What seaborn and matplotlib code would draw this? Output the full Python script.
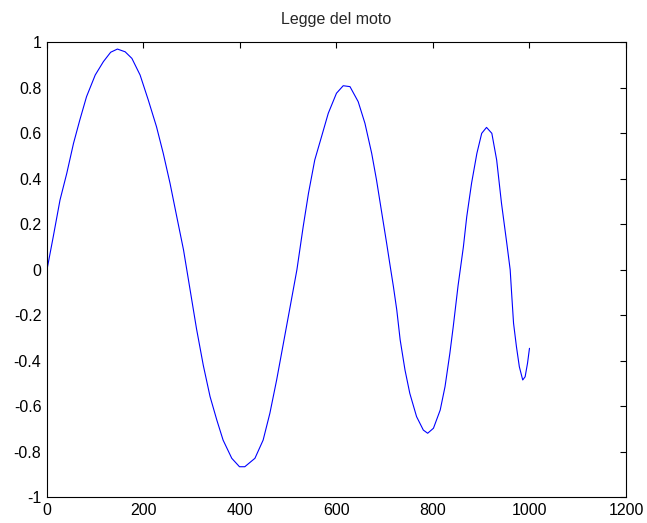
import numpy as np
import pandas as pd
import matplotlib
matplotlib.use('Agg')
import matplotlib.pyplot as plt
import seaborn as sns

# values
t = [0, 13, 27, 41, 55, 68, 82, 100, 117, 132, 146, 162, 176, 193, 210,
     227, 241, 255, 269, 283, 296, 310, 324, 338, 352, 365, 383, 399, 410,
     431, 448, 462, 476, 490, 504, 518, 531, 542, 555, 569, 583, 600, 614,
     628, 645, 659, 673, 683, 694, 704, 711, 718, 725, 732, 742, 752, 766,
     780, 789, 801, 815, 825, 835, 842, 852, 863, 870, 880, 891, 901, 911,
     922, 932, 942, 953, 960, 963, 967, 973, 979, 986, 991, 996, 1000]
s = [0.0, 0.145, 0.306, 0.423, 0.555, 0.657, 0.76, 0.855, 0.914, 0.955,
     0.969, 0.957, 0.928, 0.855, 0.745, 0.628, 0.511, 0.38, 0.233, 0.087,
     -0.08, -0.26, -0.42, -0.557, -0.66, -0.748, -0.828, -0.865, -0.865,
     -0.828, -0.748, -0.63, -0.484, -0.323, -0.162, 0.0, 0.189, 0.336,
     0.482, 0.584, 0.687, 0.775, 0.808, 0.804, 0.738, 0.643, 0.511, 0.394,
     0.248, 0.116, 0.02, -0.074, -0.177, -0.308, -0.44, -0.543, -0.645,
     -0.704, -0.718, -0.696, -0.616, -0.513, -0.367, -0.25, -0.07, 0.1,
     0.233, 0.38, 0.511, 0.599, 0.625, 0.599, 0.482, 0.292, 0.116, 0.0,
     -0.103, -0.235, -0.338, -0.426, -0.484, -0.47, -0.41, -0.345]

x_ticks = [0, 200, 400, 600, 800, 1000, 1200]
y_ticks = [-1, -0.8, -0.6, -0.4, -0.2, 0, 0.2, 0.4, 0.6, 0.8, 1]
y_labels = ['-1', '-0.8', '-0.6', '-0.4', '-0.2', '0', '0.2', '0.4', '0.6', '0.8', '1']

df = pd.DataFrame({'t': t, 's': s})

sns.set_style('white')
plt.rcParams['font.family'] = ['Liberation Sans', 'DejaVu Sans']

fig = plt.figure(figsize=(6.47, 5.23), dpi=100)
ax = fig.add_axes([0.0726, 0.0488, 0.8949, 0.8709])

sns.lineplot(data=df, x='t', y='s', ax=ax, sort=False, estimator=None,
             color='#0000FF', linewidth=0.8)

ax.set_xlim(0, 1200)
ax.set_ylim(-1, 1)
ax.set_xticks(x_ticks)
ax.set_xticklabels([str(v) for v in x_ticks])
ax.set_yticks(y_ticks)
ax.set_yticklabels(y_labels)
ax.set_xlabel('')
ax.set_ylabel('')
ax.set_title('Legge del moto', fontsize=11.5, pad=13)

ax.tick_params(direction='in', length=4.5, width=0.8, top=True, right=True,
               labelsize=11.5, colors='black', pad=4)
for sp in ax.spines.values():
    sp.set_visible(True)
    sp.set_color('black')
    sp.set_linewidth(0.8)

fig.savefig('out.png', dpi=100, facecolor='white')
